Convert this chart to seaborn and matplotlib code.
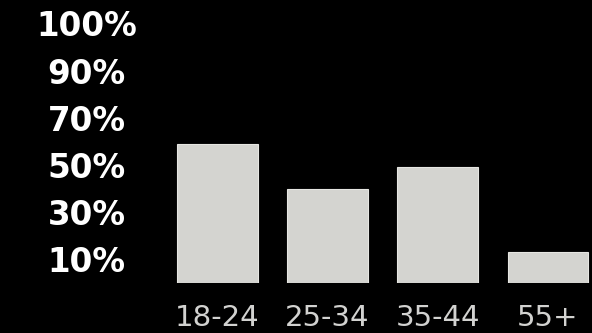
import matplotlib
matplotlib.use('Agg')
import matplotlib.pyplot as plt
import seaborn as sns
import pandas as pd

# Data
age_groups = ['18-24', '25-34', '35-44', '55+']
share = [59, 40, 49, 13]
tick_pos = [10, 30, 50, 70, 90, 110]
tick_labels = ['10%', '30%', '50%', '70%', '90%', '100%']

sns.set_style('dark')
plt.rcParams['font.family'] = ['DejaVu Sans']

df = pd.DataFrame({'age': age_groups, 'share': share})

fig = plt.figure(figsize=(5.92, 3.33), dpi=100, facecolor='black')
ax = fig.add_axes([0.287, 0.15, 0.713, 0.85])
ax.set_facecolor('black')

sns.barplot(data=df, x='age', y='share', color='#d4d4d0', saturation=1,
            width=0.73, ax=ax, edgecolor='#e6e6e2', linewidth=0.8)

ax.set_xlim(-0.43, 3.4)
ax.set_ylim(0, 119.9)
ax.set_yticks(tick_pos)
ax.set_yticklabels(tick_labels, fontsize=23.5, fontweight='bold', color='white')
for lab in ax.get_yticklabels():
    lab.set_ha('center')
ax.tick_params(axis='y', length=0, pad=60)
ax.tick_params(axis='x', length=0, pad=15, labelsize=21, labelcolor='#d2d2d0')
ax.set_xlabel('')
ax.set_ylabel('')
ax.grid(False)
for s in ax.spines.values():
    s.set_visible(False)

fig.savefig('out.png', dpi=100, facecolor='black')
